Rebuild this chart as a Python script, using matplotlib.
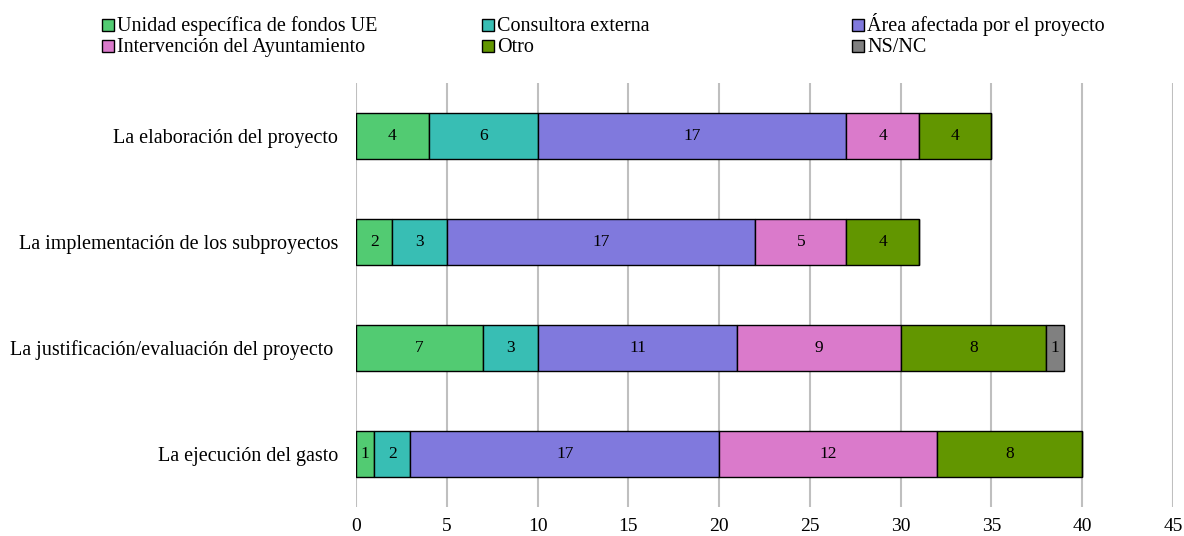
import matplotlib
matplotlib.use("Agg")
import matplotlib.pyplot as plt
from matplotlib.patches import Rectangle
import numpy as np

plt.rcParams['font.family'] = ['Liberation Serif', 'DejaVu Serif']

categories = [
    "La elaboración del proyecto",
    "La implementación de los subproyectos",
    "La justificación/evaluación del proyecto ",
    "La ejecución del gasto",
]
series_names = [
    "Unidad específica de fondos UE",
    "Consultora externa",
    "Área afectada por el proyecto",
    "Intervención del Ayuntamiento",
    "Otro",
    "NS/NC",
]
unidad = [4, 2, 7, 1]
consultora = [6, 3, 3, 2]
area = [17, 17, 11, 17]
intervencion = [4, 5, 9, 12]
otro = [4, 4, 8, 8]
nsnc = [0, 0, 1, 0]
series_values = [unidad, consultora, area, intervencion, otro, nsnc]
colors = ["#52CB72", "#38BEB4", "#8079DD", "#DA7ACB", "#629600", "#808080"]
xticks = [0, 5, 10, 15, 20, 25, 30, 35, 40, 45]

W, H = 1184, 536
fig = plt.figure(figsize=(W / 100, H / 100), dpi=100)
ax = fig.add_axes([356 / W, (H - 507) / H, (1173 - 356) / W, (507 - 83) / H])

y = np.arange(len(categories))
left = np.zeros(len(categories))
for name, vals, col in zip(series_names, series_values, colors):
    vals = np.array(vals, dtype=float)
    bars = ax.barh(y, vals, left=left, height=0.434, color=col,
                   edgecolor="black", linewidth=1.0, label=name, zorder=3)
    for rect, v in zip(bars, vals):
        if v > 0:
            ax.text(rect.get_x() + rect.get_width() / 2,
                    rect.get_y() + rect.get_height() / 2,
                    f"{int(v)}", ha="center", va="center", fontsize=12.5, zorder=4)
    left += vals

ax.set_xlim(0, 45)
ax.set_ylim(len(categories) - 0.5, -0.5)
ax.set_xticks(xticks)
ax.set_yticks(y)
ax.set_yticklabels(categories, fontsize=14.5)
ax.tick_params(axis="x", length=0, pad=8, labelsize=14)
ax.tick_params(axis="y", length=0, pad=13)
ax.grid(axis="x", color="#BFBFBF", linewidth=1.5, zorder=0)
for s in ax.spines.values():
    s.set_visible(False)

# Legend: three fixed columns, two rows (pixel layout converted to figure fraction)
col_px = [102, 482, 852]
row_px = [25, 46]
sq = 12
for i, (name, col) in enumerate(zip(series_names, colors)):
    cx = col_px[i % 3]
    cy = row_px[i // 3]
    fig.patches.append(Rectangle((cx / W, (H - cy - sq / 2) / H), sq / W, sq / H,
                                 facecolor=col, edgecolor="black", linewidth=1.0,
                                 transform=fig.transFigure, figure=fig))
    fig.text((cx + sq + 3) / W, (H - cy - 6) / H, name, fontsize=14.5,
             ha="left", va="baseline")

fig.savefig("out.png", dpi=100)
